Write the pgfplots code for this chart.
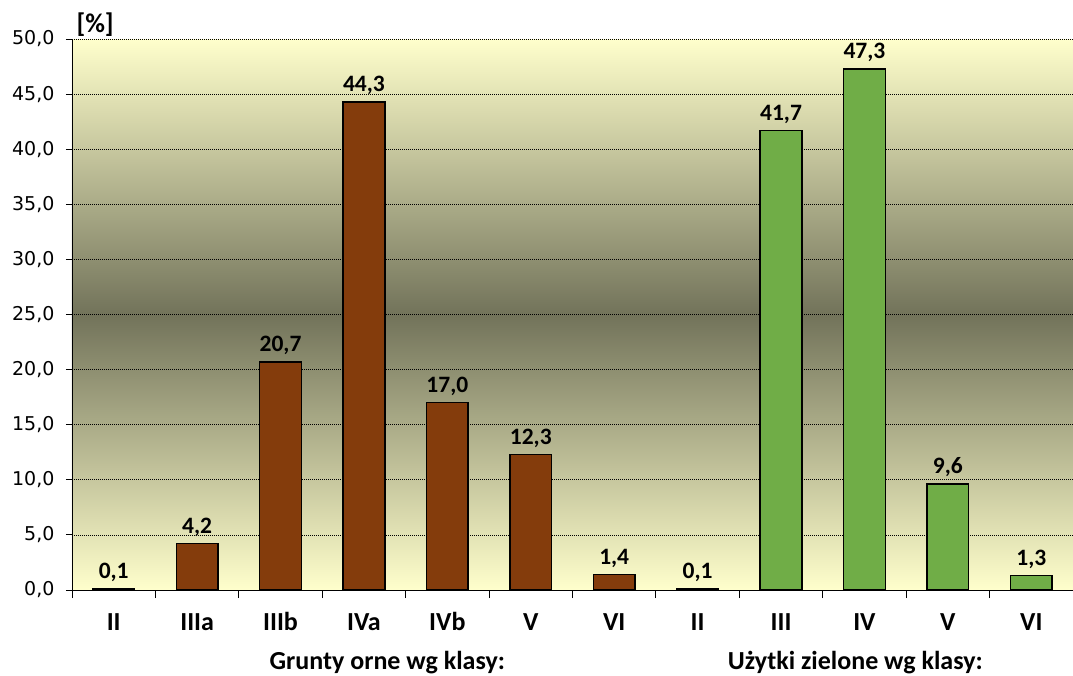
\documentclass[border=0pt]{standalone}
\usepackage{fontspec}
\setmainfont{DejaVu Sans}
\newfontfamily\carlito{Carlito}
\usepackage{pgfplots}
\pgfplotsset{compat=1.18}
\definecolor{brownbar}{HTML}{843C0C}
\definecolor{greenbar}{HTML}{70AD47}
\definecolor{bglight}{HTML}{FFFFCC}
\definecolor{bgdark}{HTML}{72735A}

\begin{document}
\begin{tikzpicture}
\useasboundingbox (-72pt,-85pt) rectangle (1001pt,590pt);
\begin{axis}[
  at={(0,0)}, anchor=south west,
  scale only axis, width=1001pt, height=551pt,
  ybar, bar width=0.5,
  xmin=-0.5, xmax=11.5, ymin=0, ymax=50,
  xtick={0,...,11},
  xticklabels={II,IIIa,IIIb,IVa,IVb,V,VI,II,III,IV,V,VI},
  minor xtick={-0.5,0.5,...,11.5},
  ytick={0,5,...,50},
  axis x line*=bottom, axis y line*=left,
  axis line style={black, line width=0.9pt},
  tick align=outside,
  major tick length=6pt, minor tick length=8pt,
  major x tick style={draw=none},
  tick style={black, line width=0.9pt},
  ymajorgrids,
  major grid style={black, line width=0.7pt, dash pattern=on 1pt off 1pt},
  axis background/.style={top color=bglight, bottom color=bglight, middle color=bgdark},
  /pgf/number format/fixed,
  /pgf/number format/fixed zerofill,
  /pgf/number format/precision=1,
  /pgf/number format/use comma,
  /pgf/number format/assume math mode=true,
  yticklabel style={font=\fontsize{19}{21}\selectfont, xshift=-8pt},
  xticklabel style={font=\carlito\bfseries\fontsize{26}{28}\selectfont, anchor=base, yshift=-34pt},
  nodes near coords,
  nodes near coords style={font=\carlito\bfseries\fontsize{23.5}{26}\selectfont, black, yshift=3pt},
  clip=false,
]
\addplot[fill=brownbar, draw=black, line width=1.5pt, bar shift=0pt] coordinates {
  (0,0.1) (1,4.2) (2,20.7) (3,44.3) (4,17.0) (5,12.3) (6,1.4)
};
\addplot[fill=greenbar, draw=black, line width=1.5pt, bar shift=0pt] coordinates {
  (7,0.1) (8,41.7) (9,47.3) (10,9.6) (11,1.3)
};
\node[anchor=base west, font=\carlito\bfseries\fontsize{27}{28}\selectfont, xshift=1pt, yshift=7pt] at (rel axis cs:0,1) {[\%]};
\node[anchor=base, font=\carlito\bfseries\fontsize{26}{28}\selectfont, yshift=-79pt] at (axis cs:3.28,0) {Grunty orne wg klasy:};
\node[anchor=base, font=\carlito\bfseries\fontsize{26}{28}\selectfont, yshift=-79pt] at (axis cs:8.89,0) {Użytki zielone wg klasy:};
\end{axis}
\end{tikzpicture}
\end{document}
